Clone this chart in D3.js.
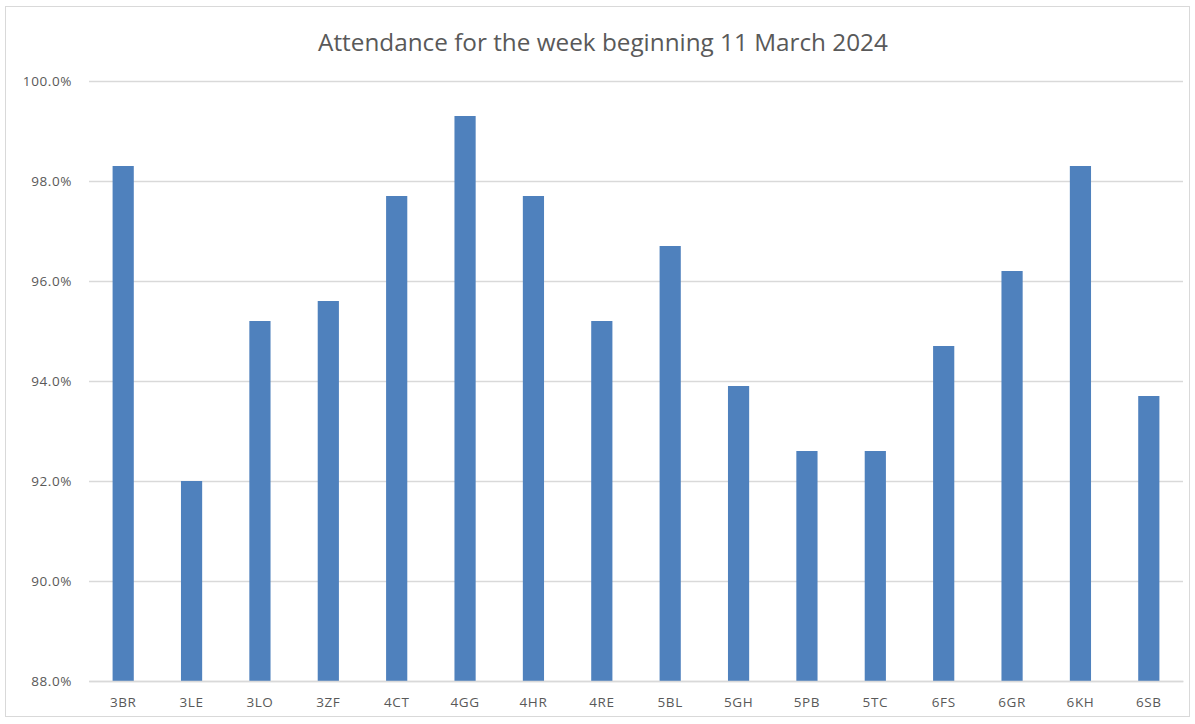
<!DOCTYPE html>
<html><head><meta charset="utf-8">
<script src="https://cdn.jsdelivr.net/npm/d3@7"></script>
<style>body{margin:0;background:#fff;} svg{display:block;}</style>
</head><body>
<svg id="c" width="1195" height="724"></svg>
<script>
const categories = ["3BR","3LE","3LO","3ZF","4CT","4GG","4HR","4RE","5BL","5GH","5PB","5TC","6FS","6GR","6KH","6SB"];
const attendance = [98.3,92.0,95.2,95.6,97.7,99.3,97.7,95.2,96.7,93.9,92.6,92.6,94.7,96.2,98.3,93.7];
const yTicks = [88,90,92,94,96,98,100];
const title = "Attendance for the week beginning 11 March 2024";

const svg = d3.select("#c");
const m = {left:89, right:1183, top:81, bottom:681};
svg.append("rect").attr("x",5.5).attr("y",6.5).attr("width",1184).attr("height",710)
  .attr("fill","#fff").attr("stroke","#d9d9d9").attr("stroke-width",1);

const x = d3.scaleBand().domain(categories).range([m.left,m.right]).paddingInner(0.69).paddingOuter(0.345);
const y = d3.scaleLinear().domain([88,100]).range([m.bottom,m.top]);

svg.append("text").attr("x",603).attr("y",51).attr("text-anchor","middle")
  .attr("font-family","'Open Sans', sans-serif").attr("font-size",24.3).attr("fill","#595959").text(title);

const ya = svg.append("g").attr("transform",`translate(${m.left},0)`)
  .call(d3.axisLeft(y).tickValues(yTicks).tickSize(-(m.right-m.left)).tickPadding(17).tickFormat(d=>d.toFixed(1)+"%"));
ya.select(".domain").remove();
ya.selectAll(".tick line").attr("stroke","#d9d9d9").attr("stroke-width",1.3);
ya.selectAll(".tick text").attr("font-family","'Open Sans', sans-serif").attr("font-size",13.5).attr("letter-spacing",0.6).attr("fill","#595959");

svg.append("g").selectAll("rect").data(categories).join("rect")
  .attr("x",d=>x(d)).attr("width",x.bandwidth())
  .attr("y",(d,i)=>y(attendance[i])).attr("height",(d,i)=>y(88)-y(attendance[i]))
  .attr("fill","#4f81bd");

const xa = svg.append("g").attr("transform",`translate(0,${m.bottom})`)
  .call(d3.axisBottom(x).tickSize(0).tickPadding(16));
xa.select(".domain").attr("stroke","#d9d9d9").attr("stroke-width",1.3);
xa.selectAll(".tick text").attr("font-family","'Open Sans', sans-serif").attr("font-size",13.5).attr("letter-spacing",0.6).attr("fill","#595959");
</script>
</body></html>
